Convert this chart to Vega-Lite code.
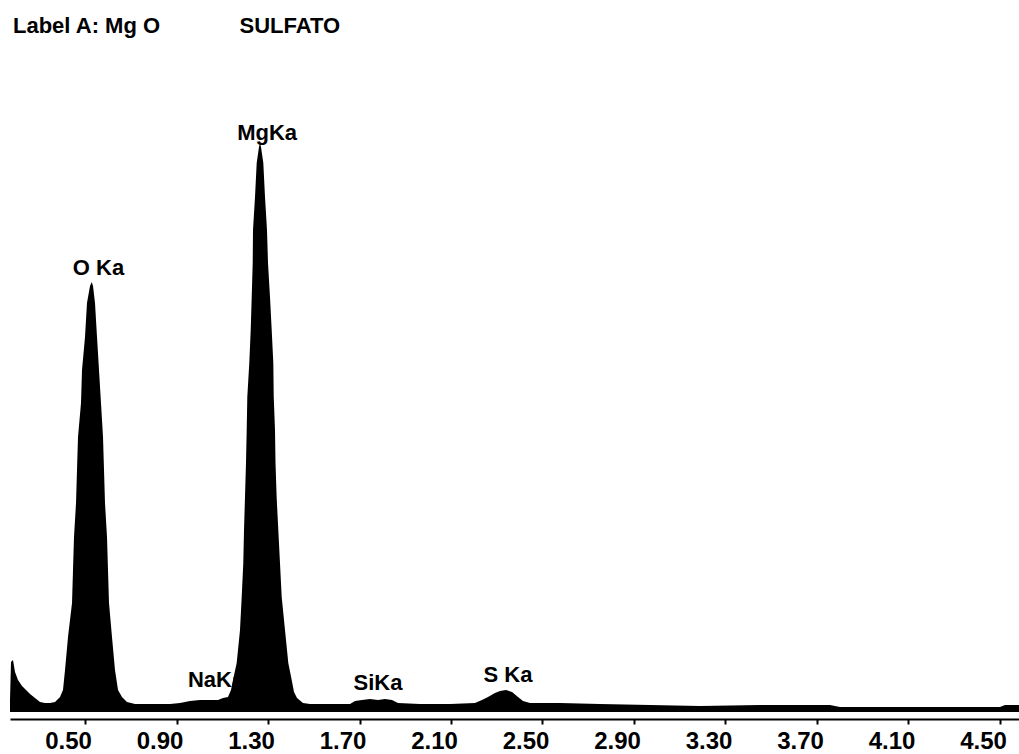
{
  "$schema": "https://vega.github.io/schema/vega-lite/v6.json",
  "autosize": "none",
  "width": 1009,
  "height": 652,
  "padding": {"left": 10, "top": 60, "right": 0, "bottom": 42},
  "background": "white",
  "config": {"view": {"stroke": null}},
  "title": {
    "text": "Label A: Mg O\u00a0\u00a0\u00a0\u00a0\u00a0\u00a0\u00a0\u00a0\u00a0\u00a0\u00a0\u00a0\u00a0SULFATO",
    "anchor": "start",
    "frame": "group",
    "font": "Liberation Sans",
    "fontSize": 22,
    "fontWeight": "bold",
    "color": "black",
    "dx": 3,
    "offset": 22
  },
  "datasets": {
    "spectrum": [
      {"keV": 0.1721, "counts": 24},
      {"keV": 0.1765, "counts": 100},
      {"keV": 0.1852, "counts": 104},
      {"keV": 0.1940, "counts": 80},
      {"keV": 0.2071, "counts": 64},
      {"keV": 0.2246, "counts": 52},
      {"keV": 0.2421, "counts": 44},
      {"keV": 0.2596, "counts": 36},
      {"keV": 0.2814, "counts": 28},
      {"keV": 0.3033, "counts": 20},
      {"keV": 0.3251, "counts": 18},
      {"keV": 0.3470, "counts": 18},
      {"keV": 0.3689, "counts": 20},
      {"keV": 0.3907, "counts": 30},
      {"keV": 0.4038, "counts": 44},
      {"keV": 0.4126, "counts": 84},
      {"keV": 0.4257, "counts": 150},
      {"keV": 0.4432, "counts": 218},
      {"keV": 0.4475, "counts": 284},
      {"keV": 0.4519, "counts": 350},
      {"keV": 0.4607, "counts": 418},
      {"keV": 0.4650, "counts": 484},
      {"keV": 0.4694, "counts": 550},
      {"keV": 0.4825, "counts": 618},
      {"keV": 0.4869, "counts": 684},
      {"keV": 0.5000, "counts": 750},
      {"keV": 0.5087, "counts": 818},
      {"keV": 0.5219, "counts": 852},
      {"keV": 0.5293, "counts": 860},
      {"keV": 0.5350, "counts": 852},
      {"keV": 0.5437, "counts": 818},
      {"keV": 0.5525, "counts": 750},
      {"keV": 0.5612, "counts": 684},
      {"keV": 0.5699, "counts": 618},
      {"keV": 0.5787, "counts": 550},
      {"keV": 0.5831, "counts": 484},
      {"keV": 0.5874, "counts": 418},
      {"keV": 0.5962, "counts": 350},
      {"keV": 0.6005, "counts": 284},
      {"keV": 0.6049, "counts": 218},
      {"keV": 0.6180, "counts": 150},
      {"keV": 0.6311, "counts": 84},
      {"keV": 0.6443, "counts": 44},
      {"keV": 0.6617, "counts": 30},
      {"keV": 0.6836, "counts": 20},
      {"keV": 0.7186, "counts": 16},
      {"keV": 0.7842, "counts": 16},
      {"keV": 0.8716, "counts": 16},
      {"keV": 0.9153, "counts": 18},
      {"keV": 0.9590, "counts": 22},
      {"keV": 1.0027, "counts": 24},
      {"keV": 1.0464, "counts": 24},
      {"keV": 1.0814, "counts": 24},
      {"keV": 1.1033, "counts": 28},
      {"keV": 1.1251, "counts": 30},
      {"keV": 1.1382, "counts": 44},
      {"keV": 1.1470, "counts": 64},
      {"keV": 1.1631, "counts": 98},
      {"keV": 1.1776, "counts": 164},
      {"keV": 1.1850, "counts": 230},
      {"keV": 1.1920, "counts": 298},
      {"keV": 1.1951, "counts": 364},
      {"keV": 1.1994, "counts": 430},
      {"keV": 1.2038, "counts": 498},
      {"keV": 1.2069, "counts": 564},
      {"keV": 1.2095, "counts": 630},
      {"keV": 1.2182, "counts": 698},
      {"keV": 1.2244, "counts": 764},
      {"keV": 1.2288, "counts": 830},
      {"keV": 1.2331, "counts": 898},
      {"keV": 1.2344, "counts": 964},
      {"keV": 1.2432, "counts": 1030},
      {"keV": 1.2506, "counts": 1098},
      {"keV": 1.2606, "counts": 1130},
      {"keV": 1.2650, "counts": 1138},
      {"keV": 1.2694, "counts": 1130},
      {"keV": 1.2795, "counts": 1098},
      {"keV": 1.2869, "counts": 1030},
      {"keV": 1.2956, "counts": 964},
      {"keV": 1.3000, "counts": 898},
      {"keV": 1.3087, "counts": 830},
      {"keV": 1.3162, "counts": 764},
      {"keV": 1.3232, "counts": 698},
      {"keV": 1.3251, "counts": 630},
      {"keV": 1.3306, "counts": 564},
      {"keV": 1.3328, "counts": 498},
      {"keV": 1.3378, "counts": 430},
      {"keV": 1.3450, "counts": 364},
      {"keV": 1.3524, "counts": 298},
      {"keV": 1.3599, "counts": 230},
      {"keV": 1.3743, "counts": 164},
      {"keV": 1.3887, "counts": 98},
      {"keV": 1.4036, "counts": 64},
      {"keV": 1.4136, "counts": 40},
      {"keV": 1.4268, "counts": 28},
      {"keV": 1.4530, "counts": 18},
      {"keV": 1.4836, "counts": 16},
      {"keV": 1.5710, "counts": 16},
      {"keV": 1.6585, "counts": 16},
      {"keV": 1.6803, "counts": 22},
      {"keV": 1.7109, "counts": 24},
      {"keV": 1.7459, "counts": 26},
      {"keV": 1.7809, "counts": 24},
      {"keV": 1.8115, "counts": 26},
      {"keV": 1.8421, "counts": 24},
      {"keV": 1.8683, "counts": 18},
      {"keV": 1.9645, "counts": 16},
      {"keV": 2.0956, "counts": 16},
      {"keV": 2.2049, "counts": 18},
      {"keV": 2.2355, "counts": 24},
      {"keV": 2.2617, "counts": 30},
      {"keV": 2.2923, "counts": 38},
      {"keV": 2.3142, "counts": 42},
      {"keV": 2.3405, "counts": 44},
      {"keV": 2.3667, "counts": 40},
      {"keV": 2.3929, "counts": 30},
      {"keV": 2.4148, "counts": 22},
      {"keV": 2.4454, "counts": 18},
      {"keV": 2.5765, "counts": 18},
      {"keV": 2.7514, "counts": 16},
      {"keV": 2.9699, "counts": 14},
      {"keV": 3.1885, "counts": 12},
      {"keV": 3.4508, "counts": 14},
      {"keV": 3.7568, "counts": 14},
      {"keV": 3.8005, "counts": 10},
      {"keV": 4.1503, "counts": 10},
      {"keV": 4.5000, "counts": 10},
      {"keV": 4.5219, "counts": 14},
      {"keV": 4.5831, "counts": 14}
    ],
    "labels": [
      {"keV": 0.559, "counts": 874, "label": "O Ka"},
      {"keV": 1.296, "counts": 1144, "label": "MgKa"},
      {"keV": 1.073, "counts": 50, "label": "NaKa"},
      {"keV": 1.781, "counts": 44, "label": "SiKa"},
      {"keV": 2.349, "counts": 60, "label": "S Ka"}
    ]
  },
  "encoding": {
    "x": {
      "field": "keV",
      "type": "quantitative",
      "scale": {"domain": [0.1721, 4.5831], "nice": false, "zero": false},
      "axis": {
        "title": null,
        "values": [0.5, 0.9, 1.3, 1.7, 2.1, 2.5, 2.9, 3.3, 3.7, 4.1, 4.5],
        "format": ".2f",
        "grid": false,
        "offset": 7,
        "domainColor": "black",
        "domainWidth": 2,
        "tickColor": "black",
        "tickWidth": 2,
        "tickSize": 5,
        "labelColor": "black",
        "labelFont": "Liberation Sans",
        "labelFontWeight": "bold",
        "labelFontSize": 24,
        "labelOffset": -17,
        "labelPadding": 5,
        "labelFlush": false,
        "labelOverlap": false
      }
    },
    "y": {
      "field": "counts",
      "type": "quantitative",
      "scale": {"domain": [0, 1304], "nice": false},
      "axis": null
    }
  },
  "layer": [
    {
      "data": {"name": "labels"},
      "mark": {
        "type": "text",
        "font": "Liberation Sans",
        "fontWeight": "bold",
        "fontSize": 22,
        "color": "black",
        "align": "center",
        "baseline": "alphabetic"
      },
      "encoding": {"text": {"field": "label"}}
    },
    {
      "data": {"name": "spectrum"},
      "mark": {"type": "area", "color": "black", "clip": true, "interpolate": "linear"}
    }
  ]
}
